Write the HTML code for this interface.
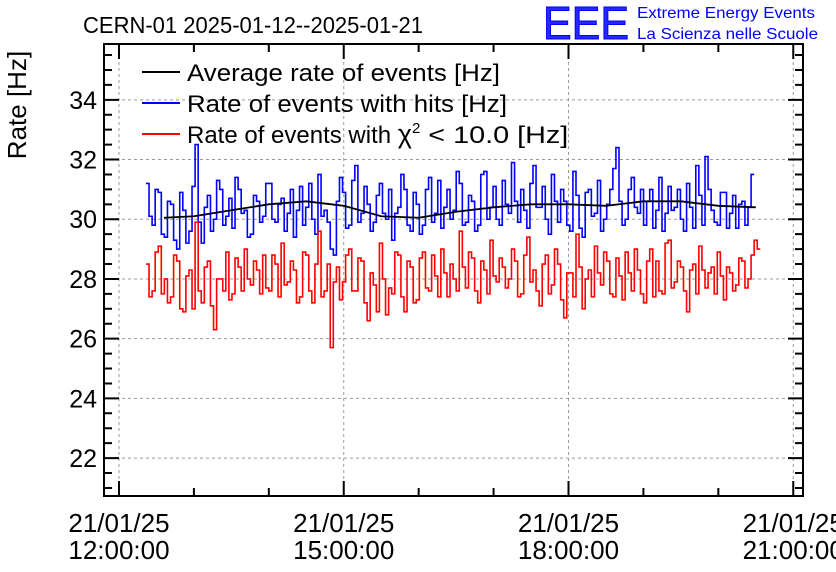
<!DOCTYPE html>
<html><head><meta charset="utf-8"><style>
html,body{margin:0;padding:0;background:#fff;}
svg{display:block;font-family:"Liberation Sans",sans-serif;}
</style></head><body>
<svg id="chart" width="836" height="572" viewBox="0 0 836 572">
<text x="83" y="33" font-size="23" textLength="340" lengthAdjust="spacingAndGlyphs">CERN-01 2025-01-12--2025-01-21</text>
<text x="543" y="39" font-size="46" fill="#00f" fill-opacity="0.85" stroke="#00f" stroke-width="1" textLength="86" lengthAdjust="spacingAndGlyphs">EEE</text>
<text x="637" y="18" font-size="16" fill="#00f" textLength="178" lengthAdjust="spacingAndGlyphs">Extreme Energy Events</text>
<text x="637" y="39" font-size="16" fill="#00f" textLength="181" lengthAdjust="spacingAndGlyphs">La Scienza nelle Scuole</text>
<text transform="translate(26,105) rotate(-90)" text-anchor="middle" font-size="26">Rate [Hz]</text>
<g id="grid"></g>
<g id="series"></g>
<g id="axes"></g>
<g>
<line x1="142" y1="72" x2="180" y2="72" stroke="#000" stroke-width="2"/>
<text x="187" y="81" font-size="24" textLength="313" lengthAdjust="spacingAndGlyphs">Average rate of events [Hz]</text>
<line x1="142" y1="103" x2="180" y2="103" stroke="#00f" stroke-width="2"/>
<text x="187" y="112" font-size="24" textLength="320" lengthAdjust="spacingAndGlyphs">Rate of events with hits [Hz]</text>
<line x1="142" y1="134" x2="180" y2="134" stroke="#f00" stroke-width="2"/>
<text x="187" y="143" font-size="24">Rate of events with <tspan font-size="27">χ</tspan><tspan dy="-10" font-size="15">2</tspan><tspan dy="10" textLength="148" lengthAdjust="spacingAndGlyphs"> &lt; 10.0 [Hz]</tspan></text>
</g>
</svg>
<script>
const yTicks=[22,24,26,28,30,32,34];
const xTickHours=[12,15,18,21];
const xTickLabels=[["21/01/25","12:00:00"],["21/01/25","15:00:00"],["21/01/25","18:00:00"],["21/01/25","21:00:00"]];
const startHour=12.36, stepHour=0.041;
const hitsRate=[31.2,30.1,29.8,31.0,30.9,29.5,29.4,30.6,30.5,29.3,29.0,30.9,30.3,29.2,29.6,31.1,32.5,29.9,29.2,30.4,30.8,29.6,30.0,31.3,31.0,29.8,30.1,30.7,29.7,31.4,31.0,30.2,30.3,29.4,29.5,30.8,30.6,29.9,30.1,31.2,31.2,30.0,29.9,30.5,30.7,29.6,30.2,31.0,29.4,30.3,31.1,29.8,30.4,31.2,30.0,29.5,31.5,30.1,30.3,29.9,29.0,28.8,30.6,31.4,30.9,29.7,29.8,31.3,31.8,29.9,30.2,31.1,30.5,29.6,29.9,30.8,31.2,30.2,30.0,31.0,29.3,30.2,30.4,31.5,31.0,29.8,29.6,30.9,30.5,29.5,29.8,31.0,31.4,29.9,30.2,31.3,29.7,30.4,31.0,30.0,30.3,31.6,31.2,29.8,29.9,30.8,30.6,29.6,29.8,31.5,31.6,30.0,30.4,31.1,30.0,29.8,31.3,30.5,30.2,31.9,30.6,29.9,31.0,30.3,29.7,31.2,31.8,30.4,30.4,31.1,30.0,29.5,31.5,30.6,29.9,31.0,30.6,29.8,29.6,31.6,30.8,29.7,29.4,30.9,31.0,30.1,30.2,31.3,29.6,30.0,30.5,31.0,31.7,32.4,30.6,29.8,30.0,31.0,31.4,30.4,30.2,31.0,29.8,30.6,31.0,29.7,30.3,31.4,29.6,30.2,31.1,30.3,30.4,31.0,30.0,29.6,31.2,30.4,29.7,31.8,30.8,29.8,32.1,31.0,30.3,29.9,29.8,30.9,30.9,29.7,30.2,30.8,29.7,30.5,30.6,29.8,30.4,31.5];
const chi2Rate=[28.5,27.4,27.6,28.9,29.1,27.5,28.0,27.2,27.4,28.8,28.6,27.0,26.9,28.1,28.3,27.0,29.9,27.6,27.2,28.4,28.6,27.1,26.3,28.0,28.0,27.6,28.9,27.3,27.5,28.7,28.4,27.6,29.0,28.0,27.8,28.6,28.3,27.5,28.8,27.7,27.6,28.8,28.5,27.4,29.2,27.8,27.9,28.6,28.3,27.2,27.4,28.9,28.8,27.6,27.2,28.5,29.6,27.4,27.6,28.5,25.7,27.9,28.4,27.3,27.9,28.8,29.0,27.6,27.6,28.7,28.6,27.2,26.6,28.2,27.8,26.9,29.2,28.0,26.8,27.7,27.5,28.9,28.8,27.4,26.9,28.6,28.4,27.2,27.3,28.7,28.9,27.7,27.6,28.8,28.1,27.4,29.0,28.2,27.4,28.5,28.0,27.6,29.6,28.4,27.7,28.9,28.7,27.6,27.2,28.6,28.3,27.5,29.3,28.1,27.9,28.7,28.4,27.7,28.0,29.0,28.6,27.4,27.5,28.8,29.4,27.9,28.3,27.6,27.1,28.5,28.8,27.5,27.8,29.0,28.5,27.3,26.7,28.2,28.2,27.4,29.5,28.4,27.0,28.0,28.3,27.4,29.1,28.2,27.8,28.9,28.6,27.5,27.4,28.7,28.1,27.3,28.9,28.2,27.6,29.0,28.3,27.5,27.2,28.6,29.0,27.4,28.6,27.6,27.5,29.2,29.3,27.7,27.9,28.6,28.4,27.6,26.9,28.3,28.5,27.5,29.1,28.3,27.7,28.2,28.4,27.5,28.9,28.1,27.3,28.4,28.2,27.6,27.8,28.7,28.6,27.7,28.0,28.8,29.3,29.0];
const avgHours=[12.6,13.0,13.5,14.0,14.5,15.0,15.5,16.0,16.5,17.0,17.5,18.0,18.5,19.0,19.5,20.0,20.5];
const avgRate=[30.05,30.1,30.3,30.5,30.6,30.45,30.1,30.05,30.25,30.4,30.5,30.5,30.45,30.6,30.6,30.45,30.4];

const L=104,R=803,T=44,B=496;
const yMin=20.73,yMax=35.87,xMin=11.8,xMax=21.13;
const X=h=>L+(h-xMin)/(xMax-xMin)*(R-L);
const Y=v=>B-(v-yMin)/(yMax-yMin)*(B-T);
const NS="http://www.w3.org/2000/svg";
function mk(tag,attrs,parent){const e=document.createElementNS(NS,tag);for(const k in attrs)e.setAttribute(k,attrs[k]);parent.appendChild(e);return e;}
const grid=document.getElementById('grid'),axes=document.getElementById('axes'),ser=document.getElementById('series');

yTicks.forEach(v=>{
  const g=mk('line',{x1:L,x2:R,y1:Y(v),y2:Y(v),stroke:'#999','stroke-dasharray':'3,3','stroke-width':1},grid);
  
  
  const t=mk('text',{x:L-7,y:Y(v)+9,'text-anchor':'end','font-size':25},axes);
  t.textContent=v;
  
  
});
xTickHours.forEach((h,i)=>{
  const g=mk('line',{x1:X(h),x2:X(h),y1:T,y2:B,stroke:'#999','stroke-dasharray':'3,3','stroke-width':1},grid);
  
  
  const t=mk('text',{x:X(h),y:532,'text-anchor':'middle','font-size':26},axes);
  t.textContent=xTickLabels[i][0];
  
  
  const t2=mk('text',{x:X(h),y:559,'text-anchor':'middle','font-size':26},axes);
  t2.textContent=xTickLabels[i][1];
  
  
});
let tp='';
for(let v=21;v<=35.5;v+=0.5){const y=Y(v);const len=(Math.abs(v/2-Math.round(v/2))<1e-6)?15:8;tp+=`M${L},${y}h${len}M${R},${y}h${-len}`;}
for(let h=12;h<=21;h+=1){const x=X(h);const len=((h-12)%3===0)?15:8;tp+=`M${x},${B}v${-len}M${x},${T}v${len}`;}
const ticks=mk('path',{d:tp,stroke:'#000','stroke-width':2,fill:'none'},axes);


const frame=mk('rect',{x:L,y:T,width:R-L,height:B-T,fill:'none',stroke:'#000','stroke-width':2},axes);



function stepPath(vals){
  let d='';
  vals.forEach((v,i)=>{const x0=X(startHour+i*stepHour),x1=X(startHour+(i+1)*stepHour),y=Y(v);
    d+=(i===0?`M${x0},${y}`:`V${y}`)+`H${x1}`;});
  return d;
}
const pb=mk('path',{d:stepPath(hitsRate),stroke:'#00f','stroke-width':1.6,fill:'none'},ser);


const pr=mk('path',{d:stepPath(chi2Rate),stroke:'#f00','stroke-width':1.6,fill:'none'},ser);


let ad='';avgHours.forEach((h,i)=>{ad+=(i?'L':'M')+X(h)+','+Y(avgRate[i]);});
const pa=mk('path',{d:ad,stroke:'#000','stroke-width':1.8,fill:'none'},ser);


</script>
</body></html>
